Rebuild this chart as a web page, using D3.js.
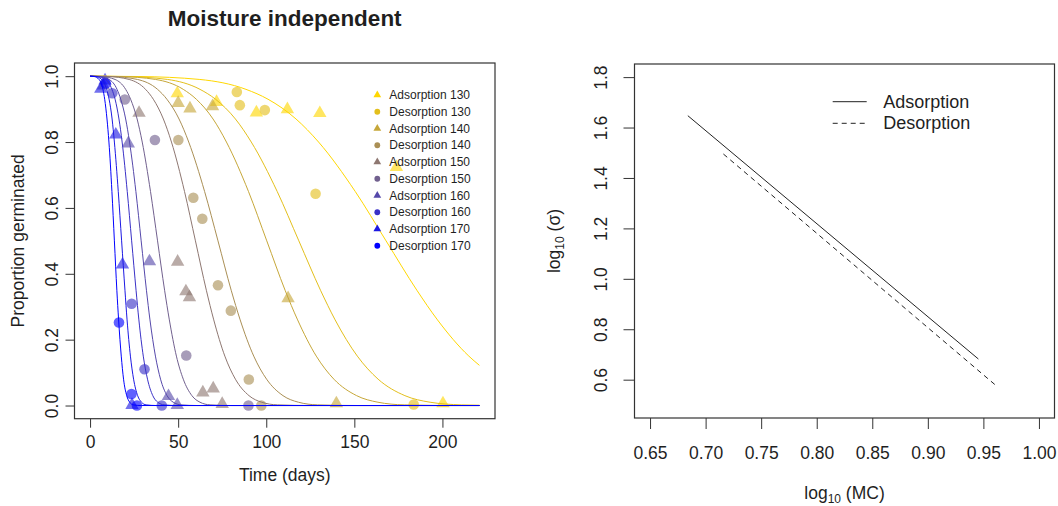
<!DOCTYPE html>
<html>
<head>
<meta charset="utf-8">
<script src="https://cdn.jsdelivr.net/npm/d3@7"></script>
<style>
  html, body { margin: 0; padding: 0; background: #fff; }
  svg { display: block; font-family: "Liberation Sans", Arial, Helvetica, sans-serif; }
</style>
</head>
<body>
<svg id="chart" width="1058" height="506"></svg>
<script>
// ---------------- data ----------------
const seriesLabels = [
  "Adsorption 130", "Desorption 130", "Adsorption 140", "Desorption 140",
  "Adsorption 150", "Desorption 150", "Adsorption 160", "Desorption 160",
  "Adsorption 170", "Desorption 170"
];

// observed germination (time in days, proportion germinated)
const obsTime = [
  [49.5, 71.8, 94.4, 112, 130.4, 173.9, 200.3],
  [83.3, 85, 99.2, 128, 183.7],
  [50, 56.7, 69.5, 112.4, 139.8],
  [50.1, 58.6, 63.7, 72.6, 79.9, 90.1, 97.2],
  [27.8, 49.7, 54.4, 56.4, 64, 69.9, 75],
  [19.7, 36.8, 54.6, 89.9],
  [7.5, 21.7, 33.7, 44.5, 49.5],
  [12.6, 23.6, 30.9, 40.7],
  [6.1, 8.5, 14.6, 18.4, 23.8],
  [8.9, 16.4, 23.5, 26.6]
];
const obsProp = [
  [0.946, 0.92, 0.888, 0.898, 0.886, 0.722, 0.005],
  [0.952, 0.912, 0.897, 0.643, 0.003],
  [0.917, 0.9, 0.907, 0.324, 0.005],
  [0.806, 0.631, 0.567, 0.365, 0.288, 0.079, 0.0],
  [0.887, 0.435, 0.345, 0.327, 0.038, 0.05, 0.003],
  [0.929, 0.806, 0.152, 0.0],
  [0.97, 0.794, 0.436, 0.027, 0.0],
  [0.948, 0.309, 0.11, 0.0],
  [0.96, 0.985, 0.821, 0.426, 0.0],
  [0.978, 0.252, 0.035, 0.0]
];

// fitted curves: time at which each curve reaches each proportion level
const fitLevels = [1, 0.999, 0.99, 0.96, 0.93, 0.87, 0.80, 0.65, 0.50, 0.35, 0.26, 0.15, 0.08, 0.03, 0.01, 0.002, 0];
const fitTime = [
  [0, 27.7, 62.3, 88.5, 101.0, 116.9, 129.7, 150.5, 168, 185.5, 197.2, 215.0],
  [0, 19.6, 44.0, 62.4, 71.2, 82.5, 91.5, 106.2, 118.5, 130.8, 139.1, 151.7, 163.5, 178.7, 193.0, 210.7],
  [0, 16.5, 37.2, 52.9, 60.3, 69.8, 77.4, 89.9, 100.3, 110.7, 117.8, 128.4, 138.4, 151.3, 163.4, 178.3, 210.6],
  [0, 12.0, 26.9, 38.3, 43.6, 50.5, 56.0, 65.0, 72.6, 80.1, 85.2, 92.9, 100.2, 109.5, 118.3, 129.1, 152.5],
  [0, 9.9, 22.2, 31.5, 35.9, 41.6, 46.2, 53.6, 59.8, 66.0, 70.2, 76.5, 82.5, 90.2, 97.4, 106.3, 125.6],
  [0, 6.3, 14.2, 20.2, 23.0, 26.7, 29.6, 34.3, 38.3, 42.3, 45.0, 49.0, 52.9, 57.8, 62.4, 68.1, 80.4],
  [0, 4.8, 10.8, 15.3, 17.4, 20.2, 22.4, 26.0, 29.0, 32.0, 34.0, 37.1, 40.0, 43.7, 47.2, 51.6, 60.9],
  [0, 3.9, 8.8, 12.4, 14.2, 16.4, 18.2, 21.1, 23.6, 26.1, 27.7, 30.2, 32.6, 35.6, 38.4, 42.0, 49.6],
  [0, 3.0, 6.6, 9.4, 10.8, 12.5, 13.8, 16.0, 17.9, 19.8, 21.0, 22.9, 24.7, 27.0, 29.2, 31.8, 37.6],
  [0, 2.3, 5.1, 7.3, 8.3, 9.6, 10.7, 12.4, 13.8, 15.2, 16.2, 17.7, 19.0, 20.8, 22.5, 24.5, 29.0]
];
// proportion of each fitted curve at the end of the time range
const fitEndProp = [0.122, 0.001, 0, 0, 0, 0, 0, 0, 0, 0];

const timeRange = [0, 221];
const propRange = [0, 1];
const timeTicks = [0, 50, 100, 150, 200];
const propTicks = [0, 0.2, 0.4, 0.6, 0.8, 1.0];

// sigma vs moisture content (log10 scale)
const isoLabels = ["Adsorption", "Desorption"];
const adsLogMC = [0.684, 0.9455];
const adsLogSigma = [1.647, 0.682];
const desLogMC = [0.716, 0.9605];
const desLogSigma = [1.495, 0.580];
const mcRange = [0.65, 1.0];
const sigmaRange = [0.5, 1.8];
const mcTicks = [0.65, 0.70, 0.75, 0.80, 0.85, 0.90, 0.95, 1.00];
const sigmaTicks = [0.6, 0.8, 1.0, 1.2, 1.4, 1.6, 1.8];

// ---------------- drawing ----------------
const svg = d3.select("#chart");
const ink = "#1f1f1f";
const frame = "#333";
const axisFont = 17.5;

// base-graphics style range: data range widened by 4% on each side
const widen = (r) => { const d = (r[1] - r[0]) * 0.04; return [r[0] - d, r[1] + d]; };

const palette = seriesLabels.map((_, i) =>
  d3.interpolateRgb("#FFD700", "#0000FF")(i / (seriesLabels.length - 1)));

function styleAxis(g) {
  g.select(".domain").remove();
  g.selectAll(".tick line").attr("stroke", frame).attr("stroke-width", 1);
  g.selectAll(".tick text").attr("fill", ink).style("font-size", axisFont + "px")
    .style("font-family", "'Liberation Sans', Arial, sans-serif");
}

function rotateYLabels(g, offset) {
  g.selectAll(".tick text")
    .attr("x", null).attr("dy", null)
    .attr("transform", `translate(${-offset},0) rotate(-90)`)
    .attr("text-anchor", "middle")
    .attr("dominant-baseline", "central");
}

// ===== left panel =====
const L = { x0: 74.5, x1: 495, y0: 63, y1: 418.7 };
const xT = d3.scaleLinear().domain(widen(timeRange)).range([L.x0, L.x1]);
const yP = d3.scaleLinear().domain(widen(propRange)).range([L.y1, L.y0]);

svg.append("defs").append("clipPath").attr("id", "clipL")
  .append("rect").attr("x", L.x0).attr("y", L.y0)
  .attr("width", L.x1 - L.x0).attr("height", L.y1 - L.y0);

const plotL = svg.append("g").attr("clip-path", "url(#clipL)");

// observations
seriesLabels.forEach((lab, i) => {
  const pts = obsTime[i].map((t, k) => [t, obsProp[i][k]]);
  const isAds = lab.startsWith("Adsorption");
  const g = plotL.append("g").attr("fill", palette[i]).attr("fill-opacity", 0.62);
  if (isAds) {
    const tri = d3.symbol(d3.symbolTriangle, 78)();
    g.selectAll("path").data(pts).join("path")
      .attr("d", tri)
      .attr("transform", d => `translate(${xT(d[0])},${yP(d[1]) - 0.5})`);
  } else {
    g.selectAll("circle").data(pts).join("circle")
      .attr("cx", d => xT(d[0])).attr("cy", d => yP(d[1])).attr("r", 5.3);
  }
});

// fitted curves
const fitLine = d3.line().x(d => xT(d[0])).y(d => yP(d[1])).curve(d3.curveMonotoneX);
seriesLabels.forEach((lab, i) => {
  const pts = fitTime[i].map((t, k) => [t, fitLevels[k]]);
  pts.push([timeRange[1], fitEndProp[i]]);
  plotL.append("path").attr("d", fitLine(pts))
    .attr("fill", "none").attr("stroke", palette[i]).attr("stroke-width", 1);
});

// axes
svg.append("g").attr("transform", `translate(0,${L.y1})`)
  .call(d3.axisBottom(xT).tickValues(timeTicks).tickSize(9).tickPadding(8).tickFormat(d3.format("d")))
  .call(styleAxis);
svg.append("g").attr("transform", `translate(${L.x0},0)`)
  .call(d3.axisLeft(yP).tickValues(propTicks).tickSize(9).tickFormat(d3.format(".1f")))
  .call(styleAxis).call(g => rotateYLabels(g, 22.5));

svg.append("rect").attr("x", L.x0).attr("y", L.y0)
  .attr("width", L.x1 - L.x0).attr("height", L.y1 - L.y0)
  .attr("fill", "none").attr("stroke", frame).attr("stroke-width", 1.2);

// titles
svg.append("text").attr("x", (L.x0 + L.x1) / 2).attr("y", 26)
  .attr("text-anchor", "middle").attr("fill", ink)
  .style("font-size", "22.5px").style("font-weight", "bold")
  .text("Moisture independent");
svg.append("text").attr("x", (L.x0 + L.x1) / 2).attr("y", 475)
  .attr("text-anchor", "middle").attr("dominant-baseline", "central")
  .attr("fill", ink).style("font-size", axisFont + "px").text("Time (days)");
svg.append("text")
  .attr("transform", `translate(18,${(L.y0 + L.y1) / 2}) rotate(-90)`)
  .attr("text-anchor", "middle").attr("dominant-baseline", "central")
  .attr("fill", ink).style("font-size", axisFont + "px").text("Proportion germinated");

// legend
const legL = svg.append("g").attr("transform", "translate(377.3,95)");
seriesLabels.forEach((lab, i) => {
  const row = legL.append("g").attr("transform", `translate(0,${i * 16.75})`);
  if (lab.startsWith("Adsorption")) {
    row.append("path").attr("d", d3.symbol(d3.symbolTriangle, 26)()).attr("fill", palette[i]);
  } else {
    row.append("circle").attr("r", 2.9).attr("fill", palette[i]);
  }
  row.append("text").attr("x", 12).attr("dominant-baseline", "central")
    .attr("fill", ink).style("font-size", "12px").text(lab);
});

// ===== right panel =====
const R = { x0: 634.5, x1: 1054.5, y0: 64, y1: 418 };
const xM = d3.scaleLinear().domain(widen(mcRange)).range([R.x0, R.x1]);
const yS = d3.scaleLinear().domain(widen(sigmaRange)).range([R.y1, R.y0]);

const sigLine = d3.line().x(d => xM(d[0])).y(d => yS(d[1]));
svg.append("path").attr("d", sigLine(adsLogMC.map((m, k) => [m, adsLogSigma[k]])))
  .attr("fill", "none").attr("stroke", "#222").attr("stroke-width", 1);
svg.append("path").attr("d", sigLine(desLogMC.map((m, k) => [m, desLogSigma[k]])))
  .attr("fill", "none").attr("stroke", "#222").attr("stroke-width", 1)
  .attr("stroke-dasharray", "5,4");

svg.append("g").attr("transform", `translate(0,${R.y1})`)
  .call(d3.axisBottom(xM).tickValues(mcTicks).tickSize(11).tickPadding(18).tickFormat(d3.format(".2f")))
  .call(styleAxis);
svg.append("g").attr("transform", `translate(${R.x0},0)`)
  .call(d3.axisLeft(yS).tickValues(sigmaTicks).tickSize(11).tickFormat(d3.format(".1f")))
  .call(styleAxis).call(g => rotateYLabels(g, 34));

svg.append("rect").attr("x", R.x0).attr("y", R.y0)
  .attr("width", R.x1 - R.x0).attr("height", R.y1 - R.y0)
  .attr("fill", "none").attr("stroke", frame).attr("stroke-width", 1.2);

// axis titles with subscripts
const xLab = svg.append("text").attr("x", (R.x0 + R.x1) / 2).attr("y", 499)
  .attr("text-anchor", "middle").attr("fill", ink).style("font-size", axisFont + "px");
xLab.append("tspan").text("log");
xLab.append("tspan").attr("dy", 4).style("font-size", "12px").text("10");
xLab.append("tspan").attr("dy", -4).text(" (MC)");

const yLab = svg.append("text")
  .attr("transform", `translate(560,${(R.y0 + R.y1) / 2}) rotate(-90)`)
  .attr("text-anchor", "middle").attr("fill", ink).style("font-size", axisFont + "px");
yLab.append("tspan").text("log");
yLab.append("tspan").attr("dy", 4).style("font-size", "12px").text("10");
yLab.append("tspan").attr("dy", -4).text(" (σ)");

// legend
const legR = svg.append("g").attr("transform", "translate(832.7,101.7)");
isoLabels.forEach((lab, i) => {
  const row = legR.append("g").attr("transform", `translate(0,${i * 21.6})`);
  row.append("line").attr("x1", 0).attr("x2", 34).attr("y1", 0).attr("y2", 0)
    .attr("stroke", "#222").attr("stroke-width", 1)
    .attr("stroke-dasharray", i === 1 ? "5,4" : null);
  row.append("text").attr("x", 50.5).attr("dominant-baseline", "central")
    .attr("fill", ink).style("font-size", "18px").text(lab);
});
</script>
</body>
</html>
